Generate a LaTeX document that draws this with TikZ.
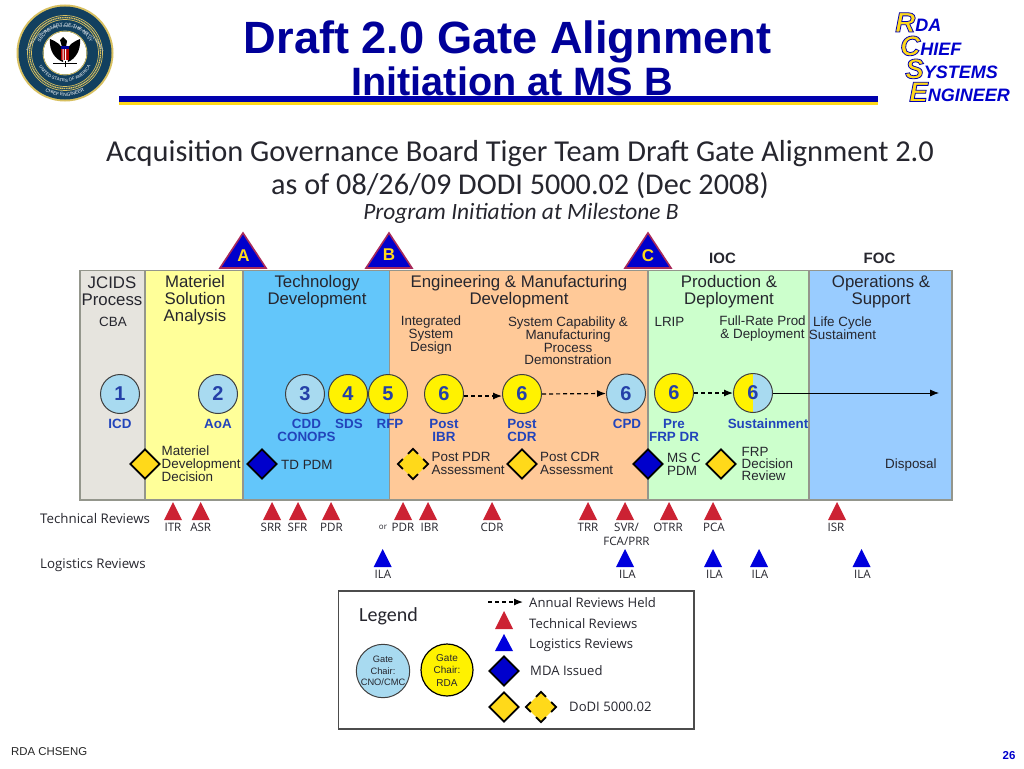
\documentclass[tikz,border=0pt]{standalone}
\usepackage{fontspec}
\setmainfont{Liberation Sans}
\newfontfamily\carl{Carlito}
\newfontfamily\tah{Open Sans}
\usetikzlibrary{shapes.geometric,arrows.meta,decorations.text}
\definecolor{navy}{HTML}{000099}
\definecolor{numblue}{HTML}{2440A8}
\definecolor{lblue}{HTML}{2244BB}
\definecolor{cblue}{HTML}{A8DAF0}
\definecolor{cyel}{HTML}{FFF200}
\definecolor{dyel}{HTML}{FFD91A}
\definecolor{dblue}{HTML}{0000CC}
\definecolor{tred}{HTML}{CC2233}
\definecolor{tblue}{HTML}{0000DD}
\definecolor{ink}{HTML}{26262E}
\definecolor{pgrey}{HTML}{E6E4DE}
\definecolor{pyel}{HTML}{FFFF99}
\definecolor{pblue}{HTML}{63C6FA}
\definecolor{pora}{HTML}{FFC998}
\definecolor{pgrn}{HTML}{CCFFCC}
\definecolor{psky}{HTML}{99CCFF}
\definecolor{edge}{HTML}{94968C}
\definecolor{sealblue}{HTML}{12405F}
\definecolor{gold}{HTML}{D8C060}
\definecolor{gatered}{HTML}{A82A5A}
\newcommand\fz[2]{\fontsize{#1}{#2}\selectfont}
\newcommand\sealA{\fontsize{4.8}{5}\selectfont\color{white}}
\newcommand\sealB{\fontsize{4.4}{5}\selectfont\color{white}}
\newcommand\sealC{\fontsize{2.9}{3}\selectfont\color{white}}
\newcommand\outl[1]{{\color{dyel}\special{pdf:code 2 Tr 0.8 w 0 0 0.7 RG}#1\special{pdf:code 0 Tr}}}
\newcommand\tri[4]{\fill[#4] (#1-9,#3) -- (#1,#2) -- (#1+9,#3) -- cycle;}
\newcommand\gatetri[1]{\fill[dblue,draw=gatered,line width=1.6pt,line join=miter] (#1-23,268) -- (#1,233) -- (#1+23,268) -- cycle;}
\newcommand\chev[1]{\draw[black,line width=1.8pt]
  ([shift={(-5,5)}]#1.north) -- (#1.north) -- ([shift={(5,5)}]#1.north)
  ([shift={(-5,-5)}]#1.south) -- (#1.south) -- ([shift={(5,-5)}]#1.south)
  ([shift={(5,-5)}]#1.west) -- (#1.west) -- ([shift={(5,5)}]#1.west)
  ([shift={(-5,-5)}]#1.east) -- (#1.east) -- ([shift={(-5,5)}]#1.east);}
\tikzset{
  x=1pt,y=-1pt,
  txt/.style={inner sep=0,text=ink,align=center},
  hd/.style={txt,font=\fz{16.8}{17}},
  sub/.style={txt,font=\fz{13.4}{12.6}},
  subl/.style={txt,font=\fz{13.4}{12.4},align=left,anchor=west},
  rev/.style={inner sep=0,text=ink,align=center,font=\tah\fz{11.6}{14}},
  blab/.style={inner sep=0,align=center,text=lblue,font=\bfseries\fz{13.4}{13}},
  circ/.style={circle,draw=black!75,line width=1pt,minimum size=39pt,inner sep=0,text=numblue,font=\bfseries\fz{20}{20}},
  cgate/.style={circ,fill=cblue},
  crda/.style={circ,fill=cyel},
  dia/.style={diamond,draw=black,line width=1.8pt,minimum width=30pt,minimum height=30pt,inner sep=0},
  ydia/.style={dia,fill=dyel},
  bdia/.style={dia,fill=dblue},
  ddia/.style={diamond,fill=dyel,minimum width=30pt,minimum height=30pt,inner sep=0},
  panel/.style={draw=edge,line width=1.6pt},
  darr/.style={draw=black,line width=1.2pt,dash pattern=on 4pt off 3pt,-{Latex[length=9pt,width=7pt]}},
  sarr/.style={draw=black,line width=0.8pt,-{Latex[length=9pt,width=7pt]}},
  leg/.style={inner sep=0,anchor=west,text=ink,font=\tah\fz{13.1}{13}},
  gatel/.style={inner sep=0,text=dyel,font=\bfseries\fz{17}{17}},
  ms/.style={inner sep=0,text=ink,font=\bfseries\fz{15}{15}},
  revh/.style={inner sep=0,anchor=west,text=ink,font=\tah\fz{13.3}{13}},
  logo/.style={inner sep=0,anchor=base west,text=dblue,font=\bfseries\itshape\fz{18}{18}},
  sealtxt/.style={decorate,decoration={text along path,text align=center}},
}
\begin{document}
\begin{tikzpicture}
\useasboundingbox (0,0) rectangle (1024,768);
\fill[white] (0,0) rectangle (1024,768);

% seal
\fill[gold] (65,53) circle[radius=48.5];
\fill[sealblue] (65,53) circle[radius=46.5];
\draw[gold,line width=1.4pt,dash pattern=on 1.2pt off .6pt] (65,53) circle[radius=35.5];
\draw[gold,line width=.7pt] (65,53) circle[radius=33.5];
\draw[gold,line width=.7pt] (65,53) circle[radius=37.5];
\fill[white] (65,53) circle[radius=21.5];
\draw[gold,line width=.8pt] (65,53) circle[radius=22];
\begin{scope}[shift={(65,53)},y=1pt]
\path[sealtxt,decoration={text={|\sealA|SECRETARY OF THE NAVY}}] (-26,-6) arc[start angle=193,end angle=-13,radius=26.7];
\path[sealtxt,decoration={text={|\sealB|UNITED STATES OF AMERICA}}] (-29,-2) arc[start angle=184,end angle=356,radius=29];
\path[sealtxt,decoration={text={|\sealA|CHIEF ENGINEER}}] (-30,-31) arc[start angle=226,end angle=314,radius=43];
\path[sealtxt,decoration={text={|\sealC|Assistant Secretary of the Navy for Research, Development {\&} Acquisition}}] (-40,-8) arc[start angle=170,end angle=10,radius=40.7];
\fill[black] (-2,-9) .. controls (-10,-6) and (-16,2) .. (-15,14) .. controls (-8,11) and (-3,8) .. (-2,2) -- cycle;
\fill[black] (3,-9) .. controls (10,-6) and (16,2) .. (15,14) .. controls (8,11) and (3,8) .. (2,2) -- cycle;
\fill[black] (-5,13) -- (-2,16) -- (2,12) -- (1,6) -- (-3,6) -- cycle;
\fill[red!70!black] (-4,-7) rectangle (4,4);
\fill[white] (-2.5,-7) rectangle (-1.5,4) (0,-7) rectangle (1,4);
\fill[blue!60!black] (-4,4) rectangle (4,7);
\draw[black,line width=.8pt] (-12,-10.5) -- (12,-10.5) (0,-8) -- (0,-14);
\end{scope}

% title
\node[inner sep=0,text=navy,font=\bfseries\fz{45.2}{45}] (title) at (507.5,42) {Draft 2.0 Gate Alignment};
\node[inner sep=0,text=navy,font=\bfseries\fz{39.6}{39}] (subtitle) at (512,81) {Initiation at MS B};
\fill[navy!80!blue] (119,96) rectangle (878,101.5);
\fill[dyel] (119,101.5) rectangle (878,105);

% logo
\node[logo] (lgR) at (895,32) {\fz{28}{28}\outl{R}\fz{18}{18}DA};
\node[logo] (lgC) at (900,55.5) {\fz{28}{28}\outl{C}\fz{18}{18}HIEF};
\node[logo] (lgS) at (905,78.5) {\fz{28}{28}\outl{S}\fz{18}{18}YSTEMS};
\node[logo] (lgE) at (909,101.5) {\fz{28}{28}\outl{E}\fz{18}{18}NGINEER};

% headings of the image
\node[inner sep=0,text=ink,font=\carl\fz{30.4}{30}] (h1) at (520,154) {Acquisition Governance Board Tiger Team Draft Gate Alignment 2.0};
\node[inner sep=0,text=ink,font=\carl\fz{30.2}{30}] (h2) at (520,186) {as of 08/26/09 DODI 5000.02 (Dec 2008)};
\node[inner sep=0,text=ink,font=\carl\itshape\fz{23.4}{23}] (h3) at (521,213) {Program Initiation at Milestone B};

% gate triangles
\gatetri{243}\gatetri{389}\gatetri{648}
\node[gatel] (gA) at (243.5,256) {A};
\node[gatel] (gB) at (389,255) {B};
\node[gatel] (gC) at (648,255.5) {C};
\node[ms] (ioc) at (722.5,258) {IOC};
\node[ms] (foc) at (879.5,258) {FOC};

% panels
\path[panel,fill=pgrey] (80,270.5) rectangle (145,500);
\path[panel,fill=pyel] (145,270.5) rectangle (243,500);
\path[panel,fill=pblue] (243,270.5) rectangle (389.5,500);
\path[panel,fill=pora] (389.5,270.5) rectangle (648,500);
\path[panel,fill=pgrn] (648,270.5) rectangle (809,500);
\path[panel,fill=psky] (809,270.5) rectangle (952,500);

\node[hd] (pJ) at (112,291.5) {JCIDS\\Process};
\node[hd] (pM) at (195,300) {Materiel\\Solution\\Analysis};
\node[hd] (pT) at (317,292) {Technology\\Development};
\node[hd] (pE) at (519,292) {Engineering \& Manufacturing\\Development};
\node[hd] (pP) at (729,292) {Production \&\\Deployment};
\node[hd] (pO) at (881,292) {Operations \&\\Support};

\node[sub] (cba) at (113,322) {CBA};
\node[sub] (isd) at (431,335) {Integrated\\System\\Design};
\node[sub] (scm) at (568,341) {System Capability \&\\Manufacturing\\Process\\Demonstration};
\node[sub] (lrip) at (669.5,322) {LRIP};
\node[sub] (frp) at (762.5,328.5) {Full-Rate Prod\\\& Deployment};
\node[sub] (lcs) at (842.5,328.5) {Life Cycle\\Sustaiment};

% circles
\node[cgate] (c1) at (120,394) {1};
\node[cgate] (c2) at (218,394) {2};
\node[cgate] (c3) at (305,394) {3};
\node[crda] (c4) at (348,394) {4};
\node[crda] (c5) at (388,394) {5};
\node[crda] (c6a) at (444,394) {6};
\node[crda] (c6b) at (522,394) {6};
\node[cgate] (c6c) at (626,393.5) {6};
\node[crda] (c6d) at (674,393) {6};
\begin{scope}[y=1pt]
\fill[cyel] (753,-373.5) arc[start angle=90,end angle=270,radius=19.5];
\fill[cblue] (753,-373.5) arc[start angle=90,end angle=-90,radius=19.5];
\end{scope}
\node[circ] (c6e) at (753,393) {6};

\coordinate (lifeEnd) at (939,393);
\draw[darr] ([yshift=-2pt]c6a.east) -- ([yshift=-2pt]c6b.west);
\draw[darr] (c6b.east) -- (c6c.west);
\draw[darr] (c6d.east) -- (c6e.west);
\draw[sarr] (c6e.east) -- (lifeEnd);

% circle labels
\node[blab] (lb1) at (120,424) {ICD};
\node[blab] (lb2) at (218,424) {AoA};
\node[blab] (lb3) at (306.5,430.5) {CDD\\CONOPS};
\node[blab] (lb4) at (349,424) {SDS};
\node[blab] (lb5) at (390,424) {RFP};
\node[blab] (lb6) at (444,430.5) {Post\\IBR};
\node[blab] (lb7) at (522,430.5) {Post\\CDR};
\node[blab] (lb8) at (627,424) {CPD};
\node[blab] (lb9) at (674,430.5) {Pre\\FRP DR};
\node[blab] (lb10) at (768,424) {Sustainment};

% diamonds
\node[ydia] (d1) at (145,464) {};
\node[bdia] (d2) at (262,464) {};
\node[ddia] (d3) at (413,464) {};
\chev{d3}
\node[ydia] (d4) at (522,464) {};
\node[bdia] (d5) at (648,464) {};
\node[ydia] (d6) at (721,464) {};
\node[subl] (t1) at (161.5,464) {Materiel\\Development\\Decision};
\node[subl] (t2) at (281,465) {TD PDM};
\node[subl] (t3) at (431.5,463.5) {Post PDR\\Assessment};
\node[subl] (t4) at (540,463.5) {Post CDR\\Assessment};
\node[subl] (t5) at (667,464.5) {MS C\\PDM};
\node[subl] (t6) at (741.5,464) {FRP\\Decision\\Review};
\node[subl] (t7) at (885,465) {Disposal};

% reviews
\node[revh] (trv) at (40,519) {Technical Reviews};
\node[revh] (lrv) at (40,565) {Logistics Reviews};
\tri{173}{502}{520}{tred}\tri{200.7}{502}{520}{tred}\tri{272}{502}{520}{tred}\tri{298}{502}{520}{tred}\tri{331}{502}{520}{tred}
\tri{403}{502}{520}{tred}\tri{428}{502}{520}{tred}\tri{492}{502}{520}{tred}\tri{588}{502}{520}{tred}\tri{625}{502}{520}{tred}
\tri{669}{502}{520}{tred}\tri{713}{502}{520}{tred}\tri{837}{502}{520}{tred}
\tri{382.7}{549}{567}{tblue}\tri{625}{549}{567}{tblue}\tri{713}{549}{567}{tblue}\tri{759}{549}{567}{tblue}\tri{861.5}{549}{567}{tblue}
\node[rev] (r1) at (173,527) {ITR};
\node[rev] (r2) at (200.7,527) {ASR};
\node[rev] (r3) at (271,527) {SRR};
\node[rev] (r4) at (297.5,527) {SFR};
\node[rev] (r5) at (331.5,527) {PDR};
\node[rev,font=\tah\fz{8}{9}] (r6) at (383,527) {or};
\node[rev] (r7) at (403,527) {PDR};
\node[rev] (r8) at (429.5,527) {IBR};
\node[rev] (r9) at (492,527) {CDR};
\node[rev] (r10) at (588,527) {TRR};
\node[rev] (r11) at (626.5,534) {SVR/\\FCA/PRR};
\node[rev] (r12) at (668,527) {OTRR};
\node[rev] (r13) at (714,527) {PCA};
\node[rev] (r14) at (836,527) {ISR};
\node[rev] (i1) at (383,574) {ILA};
\node[rev] (i2) at (627.5,574) {ILA};
\node[rev] (i3) at (714.5,574) {ILA};
\node[rev] (i4) at (760,574) {ILA};
\node[rev] (i5) at (862.5,574) {ILA};

% legend
\path[draw=black!70,line width=1.5pt] (338.5,591) rectangle (694,729);
\node[inner sep=0,anchor=west,text=ink,font=\carl\fz{20}{20}] (lgd) at (359,616) {Legend};
\node[circle,draw=black!75,line width=1pt,fill=cblue,minimum size=52pt,inner sep=0,align=center,text=ink,font=\fz{9.3}{11.5}] (lc1) at (383,671) {Gate\\Chair:\\CNO/CMC};
\node[circle,draw=black,line width=1.2pt,fill=cyel,minimum size=52pt,inner sep=0,align=center,text=ink,font=\fz{10}{12.5}] (lc2) at (447,670) {Gate\\Chair:\\RDA};
\coordinate (la) at (488,602);
\coordinate (lb) at (523,602);
\draw[darr] (la) -- (lb);
\node[leg] (ltx1) at (529,603) {Annual Reviews Held};
\tri{504}{611}{629}{tred}
\node[leg] (ltx2) at (529,624) {Technical Reviews};
\tri{504}{634}{651}{tblue}
\node[leg] (ltx3) at (529,645) {Logistics Reviews};
\node[bdia] (ld1) at (504,671) {};
\node[leg] (ltx4) at (530,671) {MDA Issued};
\node[ydia] (ld2) at (504,707) {};
\node[ddia] (ld3) at (541,707) {};
\chev{ld3}
\node[leg] (ltx5) at (569,707) {DoDI 5000.02};

% footer
\node[inner sep=0,anchor=west,text=black!85,font=\fz{11.4}{12}] (foot) at (11,752) {RDA CHSENG};
\node[inner sep=0,text=dblue,font=\bfseries\fz{11.5}{12}] (pg) at (1009,756) {26};
\end{tikzpicture}
\end{document}
